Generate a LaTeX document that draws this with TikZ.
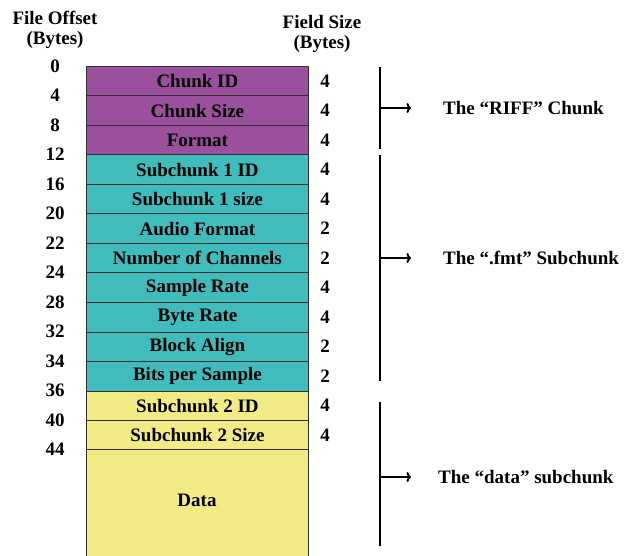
\documentclass[tikz,border=0pt]{standalone}
\usepackage{fontspec}
\setmainfont{Liberation Serif}
\usetikzlibrary{arrows.meta}
\definecolor{riffcol}{HTML}{9A509C}
\definecolor{fmtcol}{HTML}{40BCBC}
\definecolor{datacol}{HTML}{F2EA84}
\definecolor{edgecol}{HTML}{303030}
\begin{document}
\begin{tikzpicture}[x=1pt,y=-1pt,
  every node/.style={font=\fontsize{19}{21}\selectfont\bfseries, inner sep=0pt},
  field/.style={draw=edgecol, line width=0.9pt, minimum width=222pt, minimum height=29.5pt, anchor=north west},
  offs/.style={anchor=center},
  fsize/.style={anchor=center},
  brace/.style={line width=2.4pt},
  pointer/.style={line width=2.2pt, -{To[length=4.5pt,width=10pt,line width=2pt]}, shorten >=32pt},
  group/.style={anchor=west}]
\useasboundingbox (0,0) rectangle (635,556);

% column headings
\node[align=center] (hoff) at (55,30) {File Offset\\[-1pt](Bytes)};
\node[align=center] (hsize) at (322,34) {Field Size\\[-1pt](Bytes)};

% header fields, 4 or 2 bytes each
\foreach \i/\txt/\col/\sz in {
  0/Chunk ID/riffcol/4,
  1/Chunk Size/riffcol/4,
  2/Format/riffcol/4,
  3/Subchunk 1 ID/fmtcol/4,
  4/Subchunk 1 size/fmtcol/4,
  5/Audio Format/fmtcol/2,
  6/Number of Channels/fmtcol/2,
  7/Sample Rate/fmtcol/4,
  8/Byte Rate/fmtcol/4,
  9/Block Align/fmtcol/2,
  10/Bits per Sample/fmtcol/2,
  11/Subchunk 2 ID/datacol/4,
  12/Subchunk 2 Size/datacol/4}{
  \node[field, fill=\col] (f\i) at (86,66+29.5*\i) {\txt};
  \node[fsize] (s\i) at (325,80.75+29.5*\i) {\sz};
}

% sample data, running off the bottom edge
\fill[datacol] (86,449.5) rectangle (308,556);
\draw[edgecol, line width=0.9pt] (86,449.5) -- (86,557) (308,449.5) -- (308,557) (86,449.5) -- (308,449.5);
\node (data) at (197,500) {Data};

% byte offsets at the field boundaries
\foreach \i/\o in {0/0,1/4,2/8,3/12,4/16,5/20,6/22,7/24,8/28,9/32,10/34,11/36,12/40,13/44}{
  \node[offs] (o\i) at (55,66+29.5*\i) {\o};
}

% chunk groups
\node[group] (riff) at (443,108) {The “RIFF” Chunk};
\node[group] (fmt) at (443,258) {The “.fmt” Subchunk};
\node[group] (dat) at (438,477) {The “data” subchunk};

\coordinate (b1t) at (380,67);  \coordinate (b1b) at (380,149);
\coordinate (b2t) at (380,155); \coordinate (b2b) at (380,381);
\coordinate (b3t) at (380,402); \coordinate (b3b) at (380,546);
\coordinate (b1m) at (380,108);
\coordinate (b2m) at (380,258);
\coordinate (b3m) at (380,477);

\draw[brace] (b1t) -- (b1b);
\draw[brace] (b2t) -- (b2b);
\draw[brace] (b3t) -- (b3b);
\draw[pointer] (b1m) -- (riff.west);
\draw[pointer] (b2m) -- (fmt.west);
\draw[pointer, shorten >=27pt] (b3m) -- (dat.west);
\end{tikzpicture}
\end{document}
